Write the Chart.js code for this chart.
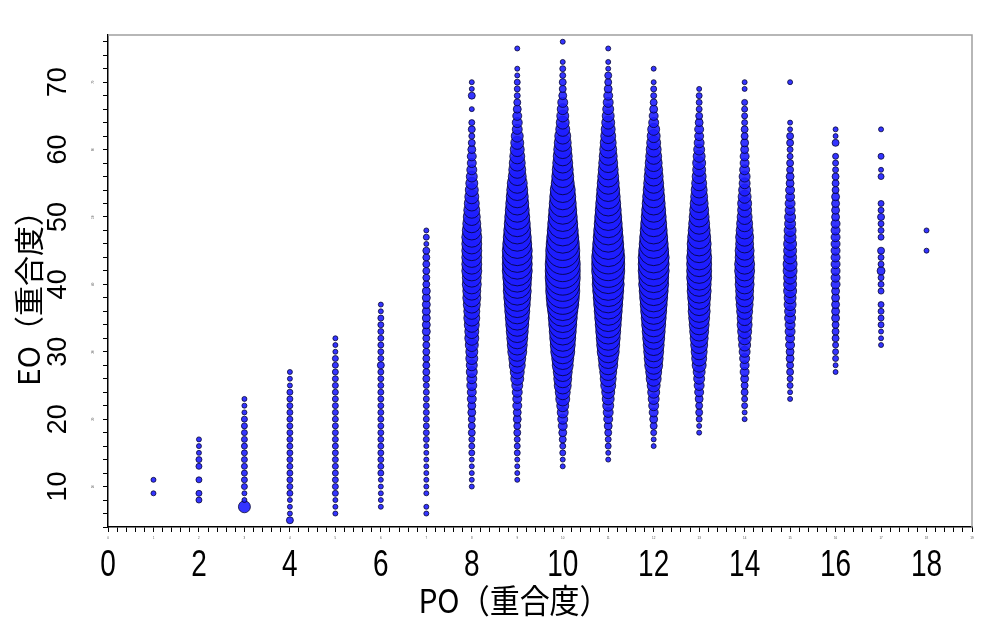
<!DOCTYPE html>
<html>
<head>
<meta charset="utf-8">
<script src="https://cdn.jsdelivr.net/npm/chart.js@4.4.1/dist/chart.umd.min.js"></script>
<style>
  html, body { margin: 0; padding: 0; background: #fff; }
  canvas { display: block; }
</style>
</head>
<body>
<canvas id="poEoChart" width="1000" height="640"></canvas>
<script>
// PO / EO bubble chart
// each column: [EO, bubble radius in px], EO ascending
const poValues = [1, 2, 3, 4, 5, 6, 7, 8, 9, 10, 11, 12, 13, 14, 15, 16, 17, 18];

const col1 = [[9, 2.5], [11, 2.5]];
const col2 = [[8, 3], [9, 3], [11, 3], [13, 3], [14, 3], [15, 2.5], [16, 2.5], [17, 2.5]];
const col3 = [[7, 6], [8, 2.5], [9, 2.5], [10, 3], [11, 3], [12, 3], [13, 3], [14, 3], [15, 3], [16, 3],
  [17, 3], [18, 3], [19, 3], [20, 3], [21, 2.5], [22, 2.5], [23, 2.5]];
const col4 = [[5, 3.5], [6, 2.5], [7, 2.5], [8, 2.5], [9, 3], [10, 3], [11, 3], [12, 3], [13, 3], [14, 3],
  [15, 3], [16, 3], [17, 3], [18, 3], [19, 3], [20, 3], [21, 3], [22, 3], [23, 3], [24, 3],
  [25, 2.5], [26, 2.5], [27, 2.5]];
const col5 = [[6, 2.5], [7, 2.5], [8, 2.5], [9, 3], [10, 3], [11, 3], [12, 3], [13, 3], [14, 3], [15, 3],
  [16, 3], [17, 3], [18, 3], [19, 3], [20, 3], [21, 3], [22, 3], [23, 3], [24, 3], [25, 3],
  [26, 3], [27, 3], [28, 3], [29, 3], [30, 2.5], [31, 2.5], [32, 2.5]];
const col6 = [[7, 2.5], [8, 2.5], [9, 2.5], [10, 2.5], [11, 2.5], [12, 3], [13, 3], [14, 3], [15, 3], [16, 3],
  [17, 3], [18, 3], [19, 3], [20, 3], [21, 3], [22, 3], [23, 3], [24, 3], [25, 3], [26, 3],
  [27, 3], [28, 3.5], [29, 3], [30, 3], [31, 3], [32, 3], [33, 3], [34, 3], [35, 3], [36, 2.5], [37, 2.5]];
const col7 = [[6, 2.5], [7, 2.5], [9, 2.5], [10, 2.5], [11, 2.5], [12, 2.5], [13, 2.5], [14, 2.5], [15, 2.5], [16, 2.5],
  [17, 3], [18, 3], [19, 3], [20, 3], [21, 3], [22, 3], [23, 3], [24, 3], [25, 3], [26, 3.5],
  [27, 3.5], [28, 3.5], [29, 3.5], [30, 3.5], [31, 3.5], [32, 3.5], [33, 4], [34, 4], [35, 4], [36, 4],
  [37, 4], [38, 4], [39, 4], [40, 3.5], [41, 3.5], [42, 3.5], [43, 3.5], [44, 3.5], [45, 3.5], [46, 2.5],
  [47, 3], [48, 2.5]];
const col8 = [[10, 2.5], [11, 2.5], [12, 2.5], [13, 2.5], [14, 2.5], [15, 3], [16, 3], [17, 3], [18, 3.5], [19, 3.5],
  [20, 3.5], [21, 4], [22, 4], [23, 4.5], [24, 4.5], [25, 5], [26, 5], [27, 5.5], [28, 5.5], [29, 6],
  [30, 6], [31, 6.5], [32, 7], [33, 7], [34, 7.5], [35, 8], [36, 8], [37, 8.5], [38, 9], [39, 9],
  [40, 9.5], [41, 9.5], [42, 10], [43, 10], [44, 10], [45, 10], [46, 10], [47, 10], [48, 9.5], [49, 9],
  [50, 8.5], [51, 8], [52, 7.5], [53, 7], [54, 6.5], [55, 6], [56, 5.5], [57, 5], [58, 4.5], [59, 4.5],
  [60, 4], [61, 3.5], [62, 3], [63, 3.5], [64, 3], [66, 2.5], [68, 3.5], [69, 2.5], [70, 2.5]];
const col9 = [[11, 2.5], [12, 2.5], [13, 2.5], [14, 2.5], [15, 3], [16, 3], [17, 3], [18, 3.5], [19, 3.5], [20, 4],
  [21, 4], [22, 4.5], [23, 4.5], [24, 5], [25, 5.5], [26, 6.5], [27, 7], [28, 8], [29, 8.5], [30, 9.5],
  [31, 10], [32, 10.5], [33, 11], [34, 11.5], [35, 12], [36, 12.5], [37, 13], [38, 13.5], [39, 14], [40, 14],
  [41, 14.5], [42, 15], [43, 15], [44, 15], [45, 15], [46, 14.5], [47, 14], [48, 13.5], [49, 13], [50, 12.5],
  [51, 12], [52, 11.5], [53, 11], [54, 10.5], [55, 10], [56, 9], [57, 8.5], [58, 8], [59, 7.5], [60, 7],
  [61, 6.5], [62, 6], [63, 5], [64, 5], [65, 4.5], [66, 4], [67, 3.5], [68, 3], [69, 3], [70, 3],
  [71, 2.5], [72, 2.5], [75, 2.5]];
const col10 = [[13, 2.5], [14, 2.5], [15, 3], [16, 3], [17, 3.5], [18, 4], [19, 4.5], [20, 5], [21, 5.5], [22, 6],
  [23, 7], [24, 7.5], [25, 8.5], [26, 9], [27, 9.5], [28, 10.5], [29, 11], [30, 12], [31, 12.5], [32, 13],
  [33, 13.5], [34, 14], [35, 14.5], [36, 15], [37, 16], [38, 16.5], [39, 17], [40, 17], [41, 17.5], [42, 17.5],
  [43, 17.5], [44, 17], [45, 17], [46, 16.5], [47, 16], [48, 15.5], [49, 15], [50, 14.5], [51, 14], [52, 13.5],
  [53, 13], [54, 12.5], [55, 11.5], [56, 11], [57, 10.5], [58, 10], [59, 9.5], [60, 9], [61, 8.5], [62, 8],
  [63, 7], [64, 6.5], [65, 6], [66, 5.5], [67, 5], [68, 4], [69, 3.5], [70, 3.5], [71, 3], [72, 3],
  [73, 2.5], [76, 2.5]];
const col11 = [[14, 2.5], [15, 2.5], [16, 3], [17, 3], [18, 3.5], [19, 4], [20, 4.5], [21, 5], [22, 5.5], [23, 6],
  [24, 6.5], [25, 7.5], [26, 8], [27, 8.5], [28, 9.5], [29, 10], [30, 11], [31, 11.5], [32, 12], [33, 12.5],
  [34, 13], [35, 13.5], [36, 14], [37, 14.5], [38, 15], [39, 15.5], [40, 16], [41, 16], [42, 16.5], [43, 16.5],
  [44, 16.5], [45, 16], [46, 15.5], [47, 15], [48, 14.5], [49, 14], [50, 13.5], [51, 13], [52, 12.5], [53, 12],
  [54, 11.5], [55, 11], [56, 10.5], [57, 10], [58, 9.5], [59, 9], [60, 8.5], [61, 8], [62, 7.5], [63, 7],
  [64, 6.5], [65, 6], [66, 5.5], [67, 5], [68, 4.5], [69, 4], [70, 3.5], [71, 3.5], [72, 2.5], [73, 2.5],
  [75, 2.5]];
const col12 = [[16, 2.5], [17, 2.5], [18, 3], [19, 3.5], [20, 4], [21, 4.5], [22, 5], [23, 5.5], [24, 6], [25, 6.5],
  [26, 7.5], [27, 8], [28, 9], [29, 9.5], [30, 10], [31, 10.5], [32, 11], [33, 11.5], [34, 12], [35, 12.5],
  [36, 13], [37, 13.5], [38, 14], [39, 14.5], [40, 15], [41, 15], [42, 15.5], [43, 15.5], [44, 15.5], [45, 15],
  [46, 14.5], [47, 14], [48, 13.5], [49, 13], [50, 12.5], [51, 12], [52, 11.5], [53, 11], [54, 10.5], [55, 10],
  [56, 9.5], [57, 9], [58, 8.5], [59, 8], [60, 7.5], [61, 7], [62, 6.5], [63, 6], [64, 5], [65, 4.5],
  [66, 4], [67, 3.5], [68, 3], [69, 3], [70, 2.5], [72, 2.5]];
const col13 = [[18, 2.5], [19, 2.5], [20, 3], [21, 3.5], [22, 3.5], [23, 4], [24, 4.5], [25, 5], [26, 5.5], [27, 6],
  [28, 7], [29, 7.5], [30, 8], [31, 8.5], [32, 9], [33, 9.5], [34, 10], [35, 10.5], [36, 11], [37, 11],
  [38, 11.5], [39, 12], [40, 12], [41, 12.5], [42, 12.5], [43, 12.5], [44, 12.5], [45, 12], [46, 12], [47, 11.5],
  [48, 11], [49, 10.5], [50, 10], [51, 9.5], [52, 9], [53, 8.5], [54, 8], [55, 7.5], [56, 7], [57, 6.5],
  [58, 6.5], [59, 6], [60, 5.5], [61, 5], [62, 4.5], [63, 4.5], [64, 4], [65, 3.5], [66, 3], [67, 3],
  [68, 3], [69, 2.5]];
const col14 = [[20, 2.5], [21, 2.5], [22, 3], [23, 3], [24, 3.5], [25, 3.5], [26, 4], [27, 4.5], [28, 4.5], [29, 5],
  [30, 5.5], [31, 6], [32, 6.5], [33, 7], [34, 7.5], [35, 7.5], [36, 8], [37, 8.5], [38, 9], [39, 9],
  [40, 9.5], [41, 9.5], [42, 10], [43, 10], [44, 9.5], [45, 9.5], [46, 9], [47, 9], [48, 8.5], [49, 8],
  [50, 7.5], [51, 7], [52, 7], [53, 6.5], [54, 6], [55, 5.5], [56, 5.5], [57, 5], [58, 4.5], [59, 4.5],
  [60, 4], [61, 4], [62, 3.5], [63, 3.5], [64, 3], [65, 3], [66, 3], [67, 3], [69, 2.5], [70, 2.5]];
const col15 = [[23, 2.5], [24, 2.5], [25, 3], [26, 3], [27, 3.5], [28, 3.5], [29, 4], [30, 4], [31, 4.5], [32, 4.5],
  [33, 5], [34, 5], [35, 5.5], [36, 5.5], [37, 6], [38, 6], [39, 6.5], [40, 6.5], [41, 6.5], [42, 7],
  [43, 7], [44, 6.5], [45, 6.5], [46, 6.5], [47, 6], [48, 6], [49, 5.5], [50, 5.5], [51, 5], [52, 5],
  [53, 4.5], [54, 4.5], [55, 4], [56, 4], [57, 3.5], [58, 3.5], [59, 3], [60, 3], [61, 3.5], [62, 3.5],
  [63, 2.5], [64, 2.5], [70, 2.5]];
const col16 = [[27, 2.5], [28, 2.5], [29, 3], [30, 3], [31, 3], [32, 3.5], [33, 3.5], [34, 3.5], [35, 4], [36, 4],
  [37, 4], [38, 4], [39, 4], [40, 4.5], [41, 4.5], [42, 4.5], [43, 4.5], [44, 4.5], [45, 4.5], [46, 4.5],
  [47, 4.5], [48, 4.5], [49, 4.5], [50, 4], [51, 4], [52, 4], [53, 4], [54, 3.5], [55, 3.5], [56, 3.5],
  [57, 3], [58, 3], [59, 3], [61, 3.5], [62, 2.5], [63, 2.5]];
const col17 = [[31, 2.5], [32, 2.5], [33, 2.5], [34, 3], [35, 3], [36, 3], [37, 3], [39, 3], [40, 3], [41, 3],
  [42, 4], [43, 3], [44, 3], [45, 3.5], [47, 3], [48, 3], [49, 3], [50, 3.5], [51, 3], [52, 3],
  [56, 3], [57, 2.5], [59, 3], [63, 2.5]];
const col18 = [[45, 2.5], [48, 2.5]];

const columns = [col1, col2, col3, col4, col5, col6, col7, col8, col9, col10, col11, col12, col13, col14, col15, col16, col17, col18];

const xTickLabels = [0, 2, 4, 6, 8, 10, 12, 14, 16, 18];
const yTickLabels = [10, 20, 30, 40, 50, 60, 70];
const xSmallLabels = [0, 1, 2, 3, 4, 5, 6, 7, 8, 9, 10, 11, 12, 13, 14, 15, 16, 17, 18, 19];
const xTitle = 'PO（重合度）';
const yTitle = 'EO（重合度）';

const points = [];
columns.forEach((col, i) => {
    col.forEach(([eo, r]) => points.push({ x: poValues[i], y: eo, r: r }));
});

// axis texts are drawn by hand so the rotated y labels sit where they should
const axisText = {
    id: 'axisText',
    afterDraw(chart) {
        const { ctx, chartArea: a, scales: { x, y } } = chart;
        ctx.save();

        // grey frame top / right
        ctx.strokeStyle = '#a0a0a0';
        ctx.lineWidth = 1.5;
        ctx.beginPath();
        ctx.moveTo(a.left, a.top);
        ctx.lineTo(a.right, a.top);
        ctx.lineTo(a.right, a.bottom);
        ctx.stroke();

        ctx.fillStyle = '#000';
        ctx.textAlign = 'center';
        ctx.textBaseline = 'middle';

        // x tick labels (tall, narrow look)
        ctx.font = '28px "Liberation Sans", Arial, sans-serif';
        xTickLabels.forEach(v => {
            ctx.save();
            ctx.translate(x.getPixelForValue(v), 566);
            ctx.scale(1, 1.3);
            ctx.fillText(String(v), 0, 0);
            ctx.restore();
        });

        // tiny labels next to the axes (barely visible in the original)
        ctx.fillStyle = '#555';
        ctx.font = '3px "Liberation Sans", sans-serif';
        xSmallLabels.forEach(v => ctx.fillText(String(v), x.getPixelForValue(v), 538));
        yTickLabels.forEach(v => {
            ctx.save();
            ctx.translate(93, y.getPixelForValue(v));
            ctx.rotate(-Math.PI / 2);
            ctx.fillText(String(v), 0, 0);
            ctx.restore();
        });

        // y tick labels, rotated
        ctx.fillStyle = '#000';
        ctx.font = '27px "Liberation Sans", Arial, sans-serif';
        yTickLabels.forEach(v => {
            ctx.save();
            ctx.translate(59, y.getPixelForValue(v));
            ctx.rotate(-Math.PI / 2);
            ctx.fillText(String(v), 0, 0);
            ctx.restore();
        });

        // axis titles
        ctx.font = '30px "Noto Sans CJK JP", sans-serif';
        ctx.save();
        ctx.translate(514, 600);
        ctx.scale(1, 1.1);
        ctx.fillText(xTitle, 0, 0);
        ctx.restore();

        ctx.font = '30px "Noto Sans CJK JP", sans-serif';
        ctx.save();
        ctx.translate(29, 291);
        ctx.rotate(-Math.PI / 2);
        ctx.fillText(yTitle, 0, 0);
        ctx.restore();

        ctx.restore();
    }
};

const chartCtx = document.getElementById('poEoChart');
new Chart(chartCtx.getContext('2d'), {
    type: 'bubble',
    data: {
        datasets: [{
            data: points,
            backgroundColor: 'rgba(30, 30, 255, 0.9)',
            borderColor: 'rgba(0, 0, 40, 0.75)',
            borderWidth: 1,
            hoverRadius: 0
        }]
    },
    options: {
        responsive: false,
        animation: false,
        events: [],
        layout: { padding: { top: 35, right: 28, left: 0, bottom: 0 } },
        plugins: { legend: { display: false }, tooltip: { enabled: false } },
        scales: {
            x: {
                type: 'linear',
                min: 0,
                max: 19,
                afterFit: s => { s.height = 113; },
                ticks: { display: false, stepSize: 0.2, autoSkip: false, includeBounds: false },
                grid: { drawOnChartArea: false, drawTicks: true, tickLength: 5, tickColor: '#000', tickWidth: 1 },
                border: { color: '#000', width: 1.5 }
            },
            y: {
                type: 'linear',
                min: 4,
                max: 77,
                afterFit: s => { s.width = 108; },
                ticks: { display: false, stepSize: 2, autoSkip: false, includeBounds: false },
                grid: { drawOnChartArea: false, drawTicks: true, tickLength: 5, tickColor: '#000', tickWidth: 1 },
                border: { color: '#000', width: 1.5 }
            }
        }
    },
    plugins: [axisText]
});
</script>
</body>
</html>
